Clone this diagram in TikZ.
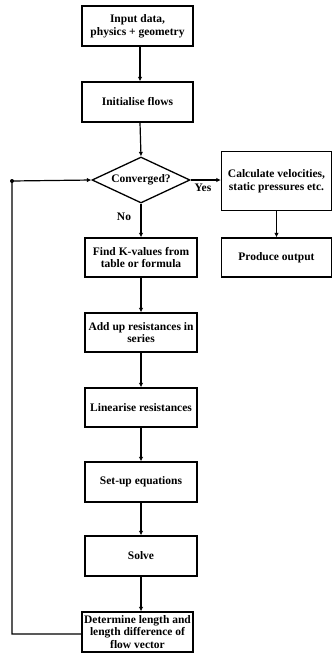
\documentclass[tikz,border=0pt]{standalone}
\usepackage{fontspec}
\setmainfont{Liberation Serif}
\usetikzlibrary{calc,arrows.meta,shapes.geometric}

\begin{document}
\begin{tikzpicture}[x=1pt,y=-1pt,line width=1.2pt,>={Latex[length=4.5pt,width=4.5pt]},
    box/.style={draw,line width=1.3pt,align=center,inner sep=0.5pt,font=\fontsize{11.5}{12.6}\selectfont\bfseries},
    lbl/.style={font=\fontsize{11.5}{12.6}\selectfont\bfseries,inner sep=0pt}]
  \useasboundingbox (0,0) rectangle (332,654);
  % linke Spalte
  \node[box,minimum width=111pt,minimum height=40pt] (input) at (137.5,26) {Input data,\\physics + geometry};
  \node[box,minimum width=111pt,minimum height=40pt] (init) at (137.5,102) {Initialise flows};
  \node[box,shape=diamond,aspect=2.1,minimum width=98pt,minimum height=46pt,inner sep=0pt] (conv) at (141,180) {Converged?};
  \node[box,minimum width=112pt,minimum height=39pt] (kval) at (141,257.5) {Find K-values from\\table or formula};
  \node[box,minimum width=112pt,minimum height=39pt] (addup) at (141,332.5) {Add up resistances in\\series};
  \node[box,minimum width=112pt,minimum height=39pt] (lin) at (141,407.5) {Linearise resistances};
  \node[box,minimum width=112pt,minimum height=40pt] (setup) at (141,482) {Set-up equations};
  \node[box,minimum width=112pt,minimum height=40pt] (solve) at (141,556) {Solve};
  \node[box,minimum width=111pt,minimum height=40pt] (det) at (137.5,632) {Determine length and\\length difference of\\flow vector};
  % rechte Spalte
  \node[box,minimum width=110pt,minimum height=59pt] (calc) at (276.5,181) {Calculate velocities,\\static pressures etc.};
  \node[box,minimum width=110pt,minimum height=39pt] (out) at (276.5,257.5) {Produce output};
  \coordinate (loop) at (12,181);
  \node[lbl] (yes) at (203,188) {Yes};
  \node[lbl] (no) at (124,217) {No};
  \draw[->] (input.south -| 140,0) -- (init.north -| 140,0);
  \draw[->] (init.south -| 140,0) -- (conv.north);
  \draw[->] (conv.south) -- (kval.north -| conv.south);
  \draw[->] (kval.south) -- (addup.north);
  \draw[->] (addup.south) -- (lin.north);
  \draw[->] (lin.south) -- (setup.north);
  \draw[->] (setup.south) -- (solve.north);
  \draw[->] (solve.south) -- (solve.south |- det.north);
  \draw[->] (conv.east) -- (conv.east -| calc.west);
  \draw[->] (calc.south) -- (out.north);
  % Rueckfuehrung
  \draw[->] ($(det.west)+(0,2)$) -| (loop) -- (conv.west);
  \fill (loop) circle(2pt);
\end{tikzpicture}
\end{document}
